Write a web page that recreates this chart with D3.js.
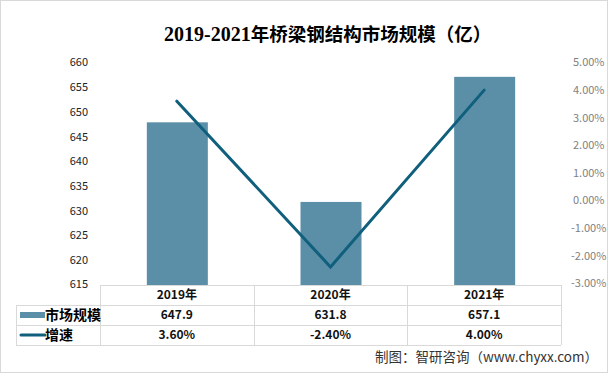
<!DOCTYPE html>
<html>
<head>
<meta charset="utf-8">
<script src="https://cdn.jsdelivr.net/npm/d3@7"></script>
<style>
  body { margin: 0; background: #fff; }
  svg { display: block; }
</style>
</head>
<body>
<svg id="chart" width="608" height="373"></svg>
<script>
var years = ['2019年', '2020年', '2021年'];
var marketSize = [647.9, 631.8, 657.1];
var growth = [3.6, -2.4, 4.0];
var leftTicks = [615, 620, 625, 630, 635, 640, 645, 650, 655, 660];
var rightTicks = [-3, -2, -1, 0, 1, 2, 3, 4, 5];
var seriesNames = ['市场规模', '增速'];

var barColor = '#5b8fa7', lineColor = '#0f5f7d', gridColor = '#d9d9d9';
var cjk = '"Microsoft YaHei", "Noto Sans CJK SC", sans-serif';

var svg = d3.select('#chart');

// outer frame
svg.append('rect')
    .attr('x', 0.5).attr('y', 0.5)
    .attr('width', 607).attr('height', 372)
    .style('fill', 'none').style('stroke', gridColor);

// title: serif digits, cjk part a bit smaller
var title = svg.append('text')
    .attr('x', 164).attr('y', 41)
    .style('font-weight', 'bold')
    .style('fill', '#000');
title.append('tspan')
    .style('font-family', '"Liberation Serif", serif')
    .style('font-size', '20px')
    .text('2019-2021');
title.append('tspan')
    .style('font-family', '"Noto Sans CJK SC", sans-serif')
    .style('font-size', '18.5px')
    .text('年桥梁钢结构市场规模（亿）');

var x = d3.scaleBand().domain(years).range([100, 561]).paddingInner(0).paddingOuter(0);
var yL = d3.scaleLinear().domain([615, 660]).range([285, 62.5]);
var yR = d3.scaleLinear().domain([-3, 5]).range([283.5, 62.5]);

// left axis labels
svg.append('g').selectAll('text')
    .data(leftTicks)
    .enter().append('text')
    .attr('x', 88)
    .attr('y', function (d) { return d === 615 ? yL(d) - 1 : yL(d); })
    .attr('dy', '0.35em')
    .attr('text-anchor', 'end')
    .style('font-family', cjk)
    .style('font-size', '11px')
    .style('fill', '#222')
    .text(function (d) { return d; });

// right axis labels
svg.append('g').selectAll('text')
    .data(rightTicks)
    .enter().append('text')
    .attr('x', function (d) { return d < 0 ? 571 : 573; })
    .attr('y', function (d) { return yR(d); })
    .attr('dy', '0.35em')
    .style('font-family', cjk)
    .style('font-size', '11px')
    .style('fill', '#7f7f7f')
    .text(function (d) { return d.toFixed(2) + '%'; });

// bars
var bw = 61;
svg.append('g').selectAll('rect')
    .data(marketSize)
    .enter().append('rect')
    .attr('x', function (d, i) { return x(years[i]) + x.bandwidth() / 2 - bw / 2 + 0.5; })
    .attr('y', function (d) { return yL(d); })
    .attr('width', bw)
    .attr('height', function (d) { return yL(615) - yL(d); })
    .style('fill', barColor);

// growth line
var line = d3.line()
    .x(function (d, i) { return x(years[i]) + x.bandwidth() / 2; })
    .y(function (d) { return yR(d); });

svg.append('path')
    .datum(growth)
    .attr('d', line)
    .style('fill', 'none')
    .style('stroke', lineColor)
    .style('stroke-width', 3)
    .style('stroke-linecap', 'round')
    .style('stroke-linejoin', 'miter');

// data table
var rowTop = [285, 305, 325, 345];
var table = svg.append('g').style('shape-rendering', 'crispEdges');
var hline = function (x0, x1, y) {
    table.append('line').attr('x1', x0).attr('x2', x1).attr('y1', y + 0.5).attr('y2', y + 0.5)
        .style('stroke', gridColor);
};
var vline = function (xx, y0, y1) {
    table.append('line').attr('x1', xx + 0.5).attr('x2', xx + 0.5).attr('y1', y0).attr('y2', y1)
        .style('stroke', gridColor);
};
hline(100, 561, rowTop[0]);
hline(16, 561, rowTop[1]);
hline(16, 561, rowTop[2]);
hline(16, 561, rowTop[3]);
vline(16, rowTop[1], rowTop[3]);
vline(100, rowTop[0], rowTop[3]);
years.forEach(function (y) { vline(x(y) + x.bandwidth(), rowTop[0], rowTop[3]); });

var cellText = function (tx, ty, s, size) {
    svg.append('text')
        .attr('x', tx).attr('y', ty)
        .attr('dy', '0.35em')
        .attr('text-anchor', 'middle')
        .style('font-family', cjk)
        .style('font-size', size || '12px')
        .style('font-weight', 'bold')
        .style('fill', '#111')
        .text(s);
};

years.forEach(function (y, i) {
    var cx = x(y) + x.bandwidth() / 2;
    cellText(cx, (rowTop[0] + rowTop[1]) / 2, y);
    cellText(cx, (rowTop[1] + rowTop[2]) / 2, marketSize[i].toFixed(1));
    cellText(cx, (rowTop[2] + rowTop[3]) / 2, growth[i].toFixed(2) + '%');
});

// legend keys in table
svg.append('rect')
    .attr('x', 20).attr('y', (rowTop[1] + rowTop[2]) / 2 - 3)
    .attr('width', 25).attr('height', 6)
    .style('fill', barColor);
svg.append('line')
    .attr('x1', 21).attr('x2', 45)
    .attr('y1', (rowTop[2] + rowTop[3]) / 2).attr('y2', (rowTop[2] + rowTop[3]) / 2)
    .style('stroke', lineColor).style('stroke-width', 3).style('stroke-linecap', 'round');

seriesNames.forEach(function (n, i) {
    svg.append('text')
        .attr('x', 45).attr('y', (rowTop[i + 1] + rowTop[i + 2]) / 2)
        .attr('dy', '0.36em')
        .style('font-family', cjk)
        .style('font-size', '14px')
        .style('font-weight', 'bold')
        .style('fill', '#000')
        .text(n);
});

svg.append('text')
    .attr('x', 598).attr('y', 357)
    .attr('dy', '0.35em')
    .attr('text-anchor', 'end')
    .style('font-family', cjk)
    .style('font-size', '13.5px')
    .style('fill', '#333')
    .text('制图：智研咨询（www.chyxx.com）');
</script>
</body>
</html>
